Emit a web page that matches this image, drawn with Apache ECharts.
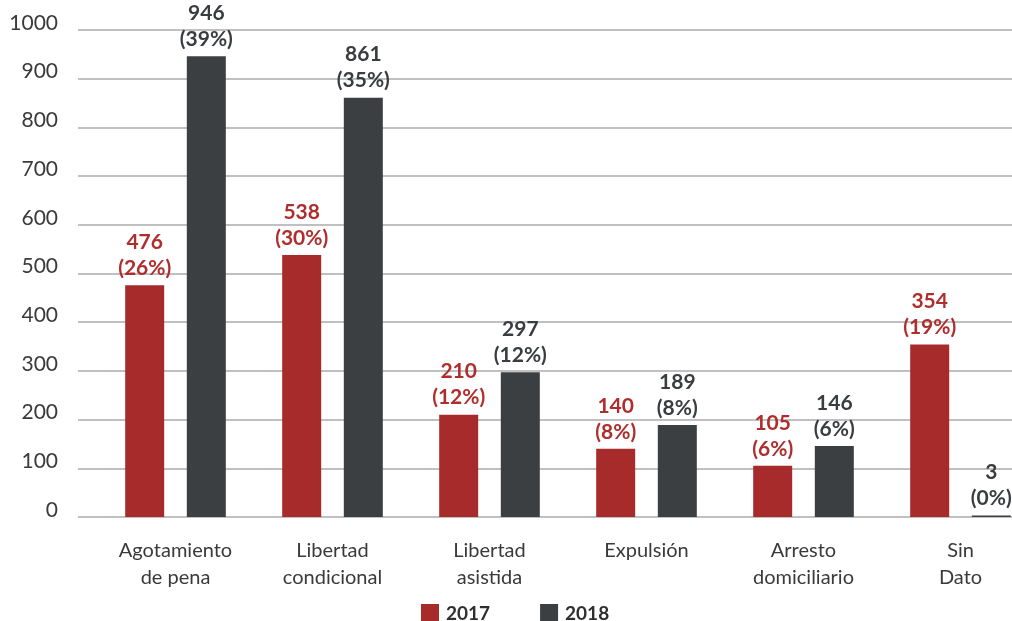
<!DOCTYPE html>
<html>
<head>
<meta charset="utf-8">
<script src="https://cdn.jsdelivr.net/npm/echarts@6/dist/echarts.min.js"></script>
<style>
  html, body { margin: 0; padding: 0; background: #ffffff; }
  #chart { width: 1012px; height: 621px; }
</style>
</head>
<body>
<div id="chart"></div>
<script>
// Categories (multi-line labels) and values per year
const categories = [
  'Agotamiento\nde pena',
  'Libertad\ncondicional',
  'Libertad\nasistida',
  'Expulsión',
  'Arresto\ndomiciliario',
  'Sin\nDato'
];
const values2017 = [476, 538, 210, 140, 105, 354];
const values2018 = [946, 861, 297, 189, 146, 3];
const pct2017 = [26, 30, 12, 8, 6, 19];
const pct2018 = [39, 35, 12, 8, 6, 0];
const seriesNames = ['2017', '2018'];

const RED = '#a82b2b';
const DARK = '#3c3f42';
const FONT = 'Lato, "Open Sans", sans-serif';

function withPct(values, pcts) {
  return values.map((v, i) => ({ value: v, pct: pcts[i] }));
}

function labelFor(color) {
  return {
    show: true,
    position: 'top',
    distance: 4,
    color: color,
    fontFamily: FONT,
    fontWeight: 'bold',
    fontSize: 21,
    lineHeight: 26,
    formatter: p => p.data.value + '\n(' + p.data.pct + '%)'
  };
}

const chart = echarts.init(document.getElementById('chart'));
chart.setOption({
  backgroundColor: '#ffffff',
  animation: false,
  textStyle: { fontFamily: FONT },
  legend: {
    data: seriesNames,
    left: 416,
    top: 599,
    itemWidth: 18,
    itemHeight: 19,
    itemGap: 50,
    icon: 'rect',
    textStyle: { fontFamily: FONT, fontSize: 19, fontWeight: 'bold', color: '#2f2f2f', padding: [0, 0, 0, 2] }
  },
  grid: [
    // value grid: y labels and horizontal rules
    { left: 78, width: 934, top: 30, bottom: 104, outerBoundsMode: 'none', containLabel: false },
    // bar grid, a little wider than the canvas so the last group sits near the edge
    { left: 97, width: 942, top: 30, bottom: 104, outerBoundsMode: 'none', containLabel: false }
  ],
  xAxis: [
    { gridIndex: 0, type: 'category', data: [''], show: false },
    {
      gridIndex: 1,
      type: 'category',
      data: categories,
      axisLine: { show: false },
      axisTick: { show: false },
      axisLabel: {
        interval: 0,
        margin: 20,
        color: '#3a3a3a',
        fontFamily: FONT,
        fontSize: 20,
        lineHeight: 27
      }
    }
  ],
  yAxis: [
    {
      gridIndex: 0,
      type: 'value',
      min: 0,
      max: 1000,
      interval: 100,
      axisLine: { show: false },
      axisTick: { show: false },
      axisLabel: {
        margin: 20,
        color: '#3a3a3a',
        fontFamily: FONT,
        fontSize: 21,
        lineHeight: 14,
        verticalAlign: 'bottom',
        formatter: v => String(v)
      },
      splitLine: { show: true, lineStyle: { color: '#ababab', width: 1.6 } }
    },
    {
      gridIndex: 1,
      type: 'value',
      min: 0,
      max: 1000,
      interval: 100,
      show: false,
      splitLine: { show: false }
    }
  ],
  series: [
    {
      name: seriesNames[0],
      type: 'bar',
      xAxisIndex: 1,
      yAxisIndex: 1,
      data: withPct(values2017, pct2017),
      barWidth: 39,
      barGap: '58%',
      itemStyle: { color: RED },
      label: labelFor('#b02d2d')
    },
    {
      name: seriesNames[1],
      type: 'bar',
      xAxisIndex: 1,
      yAxisIndex: 1,
      data: withPct(values2018, pct2018),
      barWidth: 39,
      barGap: '58%',
      itemStyle: { color: DARK },
      label: labelFor('#3a3d40')
    }
  ]
});
</script>
</body>
</html>
